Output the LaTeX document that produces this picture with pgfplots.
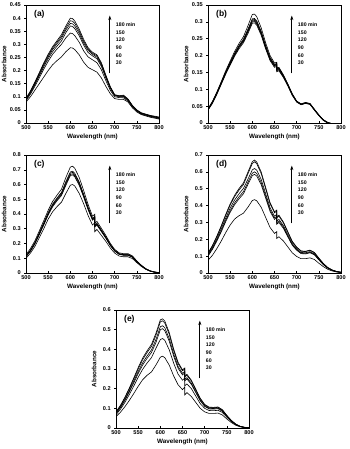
\documentclass[border=0pt]{standalone}
\usepackage{fontspec}
\setmainfont{Liberation Sans}
\usepackage{pgfplots}
\usepackage{pgfplotstable}
\pgfplotsset{compat=1.18}
\usetikzlibrary{arrows.meta}

\pgfplotstableread{
x t30 t60 t90 t120 t150 t180
500 0.080 0.085 0.088 0.090 0.092 0.094
510 0.100 0.110 0.114 0.117 0.120 0.122
520 0.125 0.140 0.146 0.150 0.153 0.156
530 0.150 0.172 0.180 0.185 0.189 0.192
540 0.175 0.205 0.214 0.220 0.225 0.229
550 0.200 0.235 0.245 0.252 0.257 0.262
560 0.222 0.262 0.272 0.280 0.286 0.291
570 0.238 0.282 0.293 0.302 0.308 0.314
580 0.252 0.300 0.313 0.323 0.330 0.337
590 0.272 0.325 0.345 0.355 0.362 0.370
600 0.287 0.343 0.370 0.380 0.390 0.400
605 0.286 0.341 0.368 0.378 0.388 0.398
610 0.280 0.333 0.360 0.370 0.380 0.389
620 0.260 0.308 0.333 0.342 0.350 0.358
630 0.232 0.275 0.297 0.305 0.312 0.319
640 0.212 0.252 0.269 0.277 0.282 0.287
650 0.203 0.241 0.256 0.262 0.266 0.270
660 0.194 0.230 0.245 0.251 0.256 0.260
670 0.172 0.203 0.216 0.221 0.226 0.230
680 0.140 0.162 0.172 0.176 0.180 0.183
690 0.112 0.125 0.132 0.135 0.137 0.139
700 0.093 0.100 0.104 0.106 0.107 0.108
710 0.090 0.097 0.100 0.102 0.103 0.104
720 0.090 0.096 0.100 0.102 0.104 0.106
730 0.080 0.084 0.087 0.089 0.090 0.092
740 0.058 0.062 0.064 0.065 0.066 0.067
750 0.042 0.045 0.047 0.048 0.049 0.050
760 0.032 0.034 0.036 0.037 0.038 0.039
780 0.022 0.024 0.026 0.027 0.028 0.029
800 0.015 0.017 0.019 0.020 0.021 0.023
}\tabA

\pgfplotstableread{
x t30 t60 t90 t120 t150 t180
500 0.038 0.039 0.040 0.040 0.041 0.042
510 0.058 0.060 0.061 0.062 0.063 0.064
520 0.085 0.087 0.088 0.089 0.090 0.092
530 0.115 0.117 0.118 0.119 0.121 0.123
540 0.145 0.147 0.149 0.150 0.152 0.155
550 0.172 0.175 0.177 0.178 0.180 0.184
560 0.198 0.201 0.203 0.205 0.207 0.212
570 0.220 0.224 0.226 0.228 0.230 0.236
580 0.238 0.242 0.244 0.246 0.249 0.256
590 0.265 0.270 0.272 0.275 0.278 0.288
600 0.296 0.300 0.303 0.306 0.309 0.322
605 0.297 0.301 0.304 0.307 0.310 0.323
610 0.290 0.294 0.297 0.300 0.303 0.315
620 0.260 0.264 0.266 0.269 0.272 0.282
630 0.220 0.223 0.225 0.228 0.230 0.238
640 0.185 0.188 0.190 0.192 0.194 0.200
650 0.165 0.168 0.170 0.172 0.174 0.178
655 0.168 0.171 0.173 0.175 0.177 0.180
655 0.152 0.155 0.157 0.159 0.161 0.164
660 0.155 0.158 0.160 0.162 0.163 0.165
670 0.135 0.137 0.139 0.140 0.141 0.143
680 0.110 0.112 0.113 0.114 0.115 0.116
690 0.082 0.083 0.084 0.085 0.086 0.087
700 0.062 0.063 0.063 0.064 0.064 0.065
710 0.054 0.055 0.055 0.056 0.056 0.057
720 0.058 0.059 0.059 0.060 0.060 0.061
730 0.055 0.056 0.056 0.057 0.057 0.058
740 0.038 0.039 0.039 0.040 0.040 0.041
750 0.022 0.022 0.023 0.023 0.024 0.024
760 0.008 0.008 0.009 0.009 0.009 0.010
770 0.000 0.000 0.001 0.001 0.001 0.002
780 -0.003 -0.003 -0.003 -0.002 -0.002 -0.002
790 -0.003 -0.003 -0.003 -0.003 -0.002 -0.002
800 -0.001 -0.001 -0.001 -0.001 -0.001 -0.001
}\tabB

\pgfplotstableread{
x t30 t60 t90 t120 t150 t180
500 0.100 0.110 0.112 0.114 0.116 0.125
510 0.135 0.148 0.150 0.152 0.155 0.165
520 0.180 0.197 0.200 0.203 0.206 0.218
530 0.240 0.260 0.264 0.268 0.272 0.285
540 0.300 0.325 0.330 0.335 0.339 0.355
550 0.365 0.393 0.398 0.404 0.409 0.425
560 0.415 0.449 0.455 0.461 0.467 0.485
570 0.450 0.490 0.496 0.503 0.509 0.528
580 0.480 0.525 0.532 0.540 0.546 0.568
590 0.540 0.595 0.603 0.612 0.620 0.648
600 0.595 0.660 0.668 0.677 0.685 0.718
605 0.600 0.665 0.673 0.682 0.690 0.724
610 0.590 0.652 0.660 0.668 0.676 0.710
620 0.540 0.595 0.602 0.610 0.617 0.648
630 0.470 0.515 0.521 0.528 0.534 0.560
640 0.390 0.430 0.435 0.441 0.446 0.465
650 0.325 0.358 0.362 0.366 0.370 0.385
655 0.340 0.372 0.376 0.380 0.384 0.398
655 0.280 0.312 0.316 0.320 0.324 0.338
660 0.295 0.325 0.329 0.333 0.337 0.350
670 0.255 0.281 0.284 0.288 0.291 0.303
680 0.215 0.236 0.239 0.242 0.245 0.255
690 0.170 0.187 0.189 0.191 0.194 0.202
700 0.135 0.148 0.150 0.152 0.154 0.160
710 0.115 0.126 0.128 0.130 0.131 0.137
720 0.110 0.120 0.122 0.124 0.125 0.131
730 0.110 0.120 0.122 0.124 0.125 0.131
740 0.098 0.107 0.108 0.110 0.111 0.116
750 0.070 0.076 0.077 0.078 0.079 0.082
760 0.045 0.049 0.050 0.050 0.051 0.053
770 0.025 0.027 0.028 0.028 0.028 0.030
780 0.012 0.013 0.013 0.014 0.014 0.015
790 0.005 0.006 0.006 0.006 0.006 0.007
800 0.002 0.002 0.002 0.002 0.002 0.003
}\tabC

\pgfplotstableread{
x t30 t60 t90 t120 t150 t180
500 0.075 0.100 0.105 0.110 0.115 0.118
510 0.105 0.140 0.145 0.152 0.160 0.163
520 0.145 0.190 0.196 0.205 0.215 0.219
530 0.190 0.245 0.252 0.263 0.276 0.281
540 0.240 0.305 0.313 0.326 0.342 0.348
550 0.285 0.360 0.370 0.385 0.403 0.410
560 0.320 0.405 0.416 0.433 0.453 0.461
570 0.340 0.440 0.452 0.470 0.492 0.501
580 0.355 0.470 0.483 0.502 0.525 0.535
590 0.390 0.525 0.538 0.556 0.588 0.598
600 0.430 0.578 0.592 0.612 0.650 0.661
605 0.435 0.585 0.600 0.620 0.660 0.670
610 0.428 0.575 0.590 0.610 0.648 0.658
620 0.390 0.524 0.537 0.555 0.590 0.599
630 0.330 0.445 0.456 0.471 0.500 0.508
640 0.270 0.365 0.374 0.387 0.410 0.417
650 0.235 0.318 0.326 0.337 0.357 0.363
655 0.245 0.329 0.337 0.348 0.367 0.373
655 0.205 0.289 0.297 0.308 0.327 0.333
660 0.215 0.300 0.308 0.318 0.337 0.343
670 0.190 0.265 0.272 0.281 0.298 0.303
680 0.155 0.215 0.220 0.228 0.241 0.245
690 0.120 0.165 0.169 0.175 0.185 0.188
700 0.098 0.135 0.138 0.143 0.151 0.154
710 0.085 0.115 0.118 0.122 0.129 0.131
720 0.085 0.113 0.116 0.120 0.127 0.129
730 0.090 0.120 0.123 0.127 0.134 0.136
740 0.080 0.108 0.110 0.114 0.120 0.122
750 0.058 0.078 0.080 0.083 0.087 0.089
760 0.038 0.050 0.051 0.053 0.056 0.057
770 0.022 0.029 0.030 0.031 0.032 0.033
780 0.012 0.016 0.016 0.017 0.018 0.018
790 0.006 0.008 0.008 0.008 0.009 0.009
800 0.003 0.004 0.004 0.004 0.004 0.004
}\tabD

\pgfplotstableread{
x t30 t60 t90 t120 t150 t180
500 0.058 0.068 0.074 0.076 0.080 0.082
510 0.080 0.095 0.103 0.106 0.112 0.115
520 0.108 0.130 0.140 0.145 0.152 0.156
530 0.140 0.170 0.183 0.189 0.198 0.203
540 0.175 0.213 0.229 0.237 0.248 0.254
550 0.212 0.258 0.277 0.287 0.300 0.307
560 0.245 0.298 0.320 0.331 0.347 0.355
570 0.268 0.330 0.354 0.366 0.383 0.392
580 0.285 0.358 0.384 0.397 0.415 0.425
590 0.320 0.405 0.434 0.449 0.470 0.481
600 0.360 0.450 0.500 0.515 0.540 0.550
605 0.365 0.455 0.505 0.520 0.545 0.555
610 0.358 0.446 0.495 0.510 0.534 0.544
620 0.320 0.398 0.442 0.455 0.477 0.486
630 0.265 0.330 0.366 0.377 0.395 0.402
640 0.220 0.274 0.304 0.313 0.328 0.334
650 0.195 0.243 0.270 0.278 0.291 0.296
655 0.208 0.254 0.280 0.287 0.300 0.305
655 0.168 0.214 0.240 0.247 0.260 0.265
660 0.180 0.224 0.249 0.256 0.268 0.273
670 0.160 0.200 0.222 0.228 0.239 0.243
680 0.130 0.162 0.180 0.185 0.194 0.197
690 0.100 0.124 0.138 0.142 0.149 0.151
700 0.082 0.100 0.110 0.113 0.118 0.120
710 0.074 0.089 0.097 0.100 0.104 0.106
720 0.074 0.088 0.096 0.099 0.103 0.105
730 0.076 0.090 0.098 0.101 0.105 0.107
740 0.066 0.079 0.085 0.088 0.091 0.093
750 0.046 0.055 0.059 0.061 0.063 0.064
760 0.028 0.033 0.036 0.037 0.038 0.039
770 0.014 0.017 0.018 0.019 0.019 0.020
780 0.006 0.007 0.008 0.008 0.008 0.009
790 0.002 0.003 0.003 0.003 0.003 0.004
800 0.000 0.001 0.001 0.001 0.001 0.001
}\tabE

\pgfplotsset{
  panel/.style={
    scale only axis, width=133pt, height=118pt, anchor=south west,
    xmin=500, xmax=800, ymin=0,
    xtick={500,550,...,800},
    axis line style={line width=0.7pt},
    xtick align=inside, ytick align=outside, xtick pos=left, ytick pos=left,
    major tick length=2pt,
    tick style={line width=0.5pt, black},
    tick label style={font=\fontsize{5.6}{6.5}\selectfont\bfseries},
    label style={font=\fontsize{6.3}{7}\selectfont\bfseries},
    xlabel={Wavelength (nm)}, ylabel={Absorbance},
    xlabel style={at={(axis description cs:0.5,-0.115)},anchor=center},
    ylabel style={at={(axis description cs:-0.165,0.5)},anchor=center},
    xticklabel style={yshift=0.5pt},
    scaled y ticks=false,
    /pgf/number format/assume math mode=true,
    yticklabel style={/pgf/number format/fixed, /pgf/number format/precision=2, xshift=0.3pt},
  },
  curve/.style={black, line width=0.6pt, no markers},
}

\newcommand{\curves}[1]{%
  \addplot[curve] table[x=x,y=t30]{#1};
  \addplot[curve] table[x=x,y=t60]{#1};
  \addplot[curve] table[x=x,y=t90]{#1};
  \addplot[curve] table[x=x,y=t120]{#1};
  \addplot[curve] table[x=x,y=t150]{#1};
  \addplot[curve] table[x=x,y=t180]{#1};
}
\newcommand{\annot}[1]{%
  \draw[-{Stealth[length=4.5pt,width=3pt]}, line width=0.6pt] (rel axis cs:0.63,0.42) -- (rel axis cs:0.63,0.91);
  \node[anchor=west, inner sep=0pt, font=\fontsize{5.2}{6}\selectfont\bfseries] at (rel axis cs:0.675,0.83) {180 min};
  \node[anchor=west, inner sep=0pt, font=\fontsize{5.2}{6}\selectfont\bfseries] at (rel axis cs:0.675,0.766) {150};
  \node[anchor=west, inner sep=0pt, font=\fontsize{5.2}{6}\selectfont\bfseries] at (rel axis cs:0.675,0.702) {120};
  \node[anchor=west, inner sep=0pt, font=\fontsize{5.2}{6}\selectfont\bfseries] at (rel axis cs:0.675,0.638) {90};
  \node[anchor=west, inner sep=0pt, font=\fontsize{5.2}{6}\selectfont\bfseries] at (rel axis cs:0.675,0.574) {60};
  \node[anchor=west, inner sep=0pt, font=\fontsize{5.2}{6}\selectfont\bfseries] at (rel axis cs:0.675,0.51) {30};
  \node[anchor=west, inner sep=0pt, font=\fontsize{8.5}{9}\selectfont\bfseries] at (rel axis cs:0.06,0.92) {(#1)};
}

\begin{document}
\begin{tikzpicture}
\path[use as bounding box] (0,0) rectangle (350pt,449pt);

\begin{axis}[panel, at={(26pt,326pt)}, ymax=0.45, ytick={0,0.05,...,0.451}]
\curves{\tabA}
\annot{a}
\end{axis}

\begin{axis}[panel, at={(208pt,326pt)}, ymax=0.35, ytick={0,0.05,...,0.351}]
\curves{\tabB}
\annot{b}
\end{axis}

\begin{axis}[panel, at={(26pt,176pt)}, ymax=0.8, ytick={0,0.1,...,0.801}]
\curves{\tabC}
\annot{c}
\end{axis}

\begin{axis}[panel, at={(208pt,176pt)}, ymax=0.7, ytick={0,0.1,...,0.701}]
\curves{\tabD}
\annot{d}
\end{axis}

\begin{axis}[panel, at={(116pt,21pt)}, ymax=0.6, ytick={0,0.1,...,0.601}]
\curves{\tabE}
\annot{e}
\end{axis}
\end{tikzpicture}
\end{document}
